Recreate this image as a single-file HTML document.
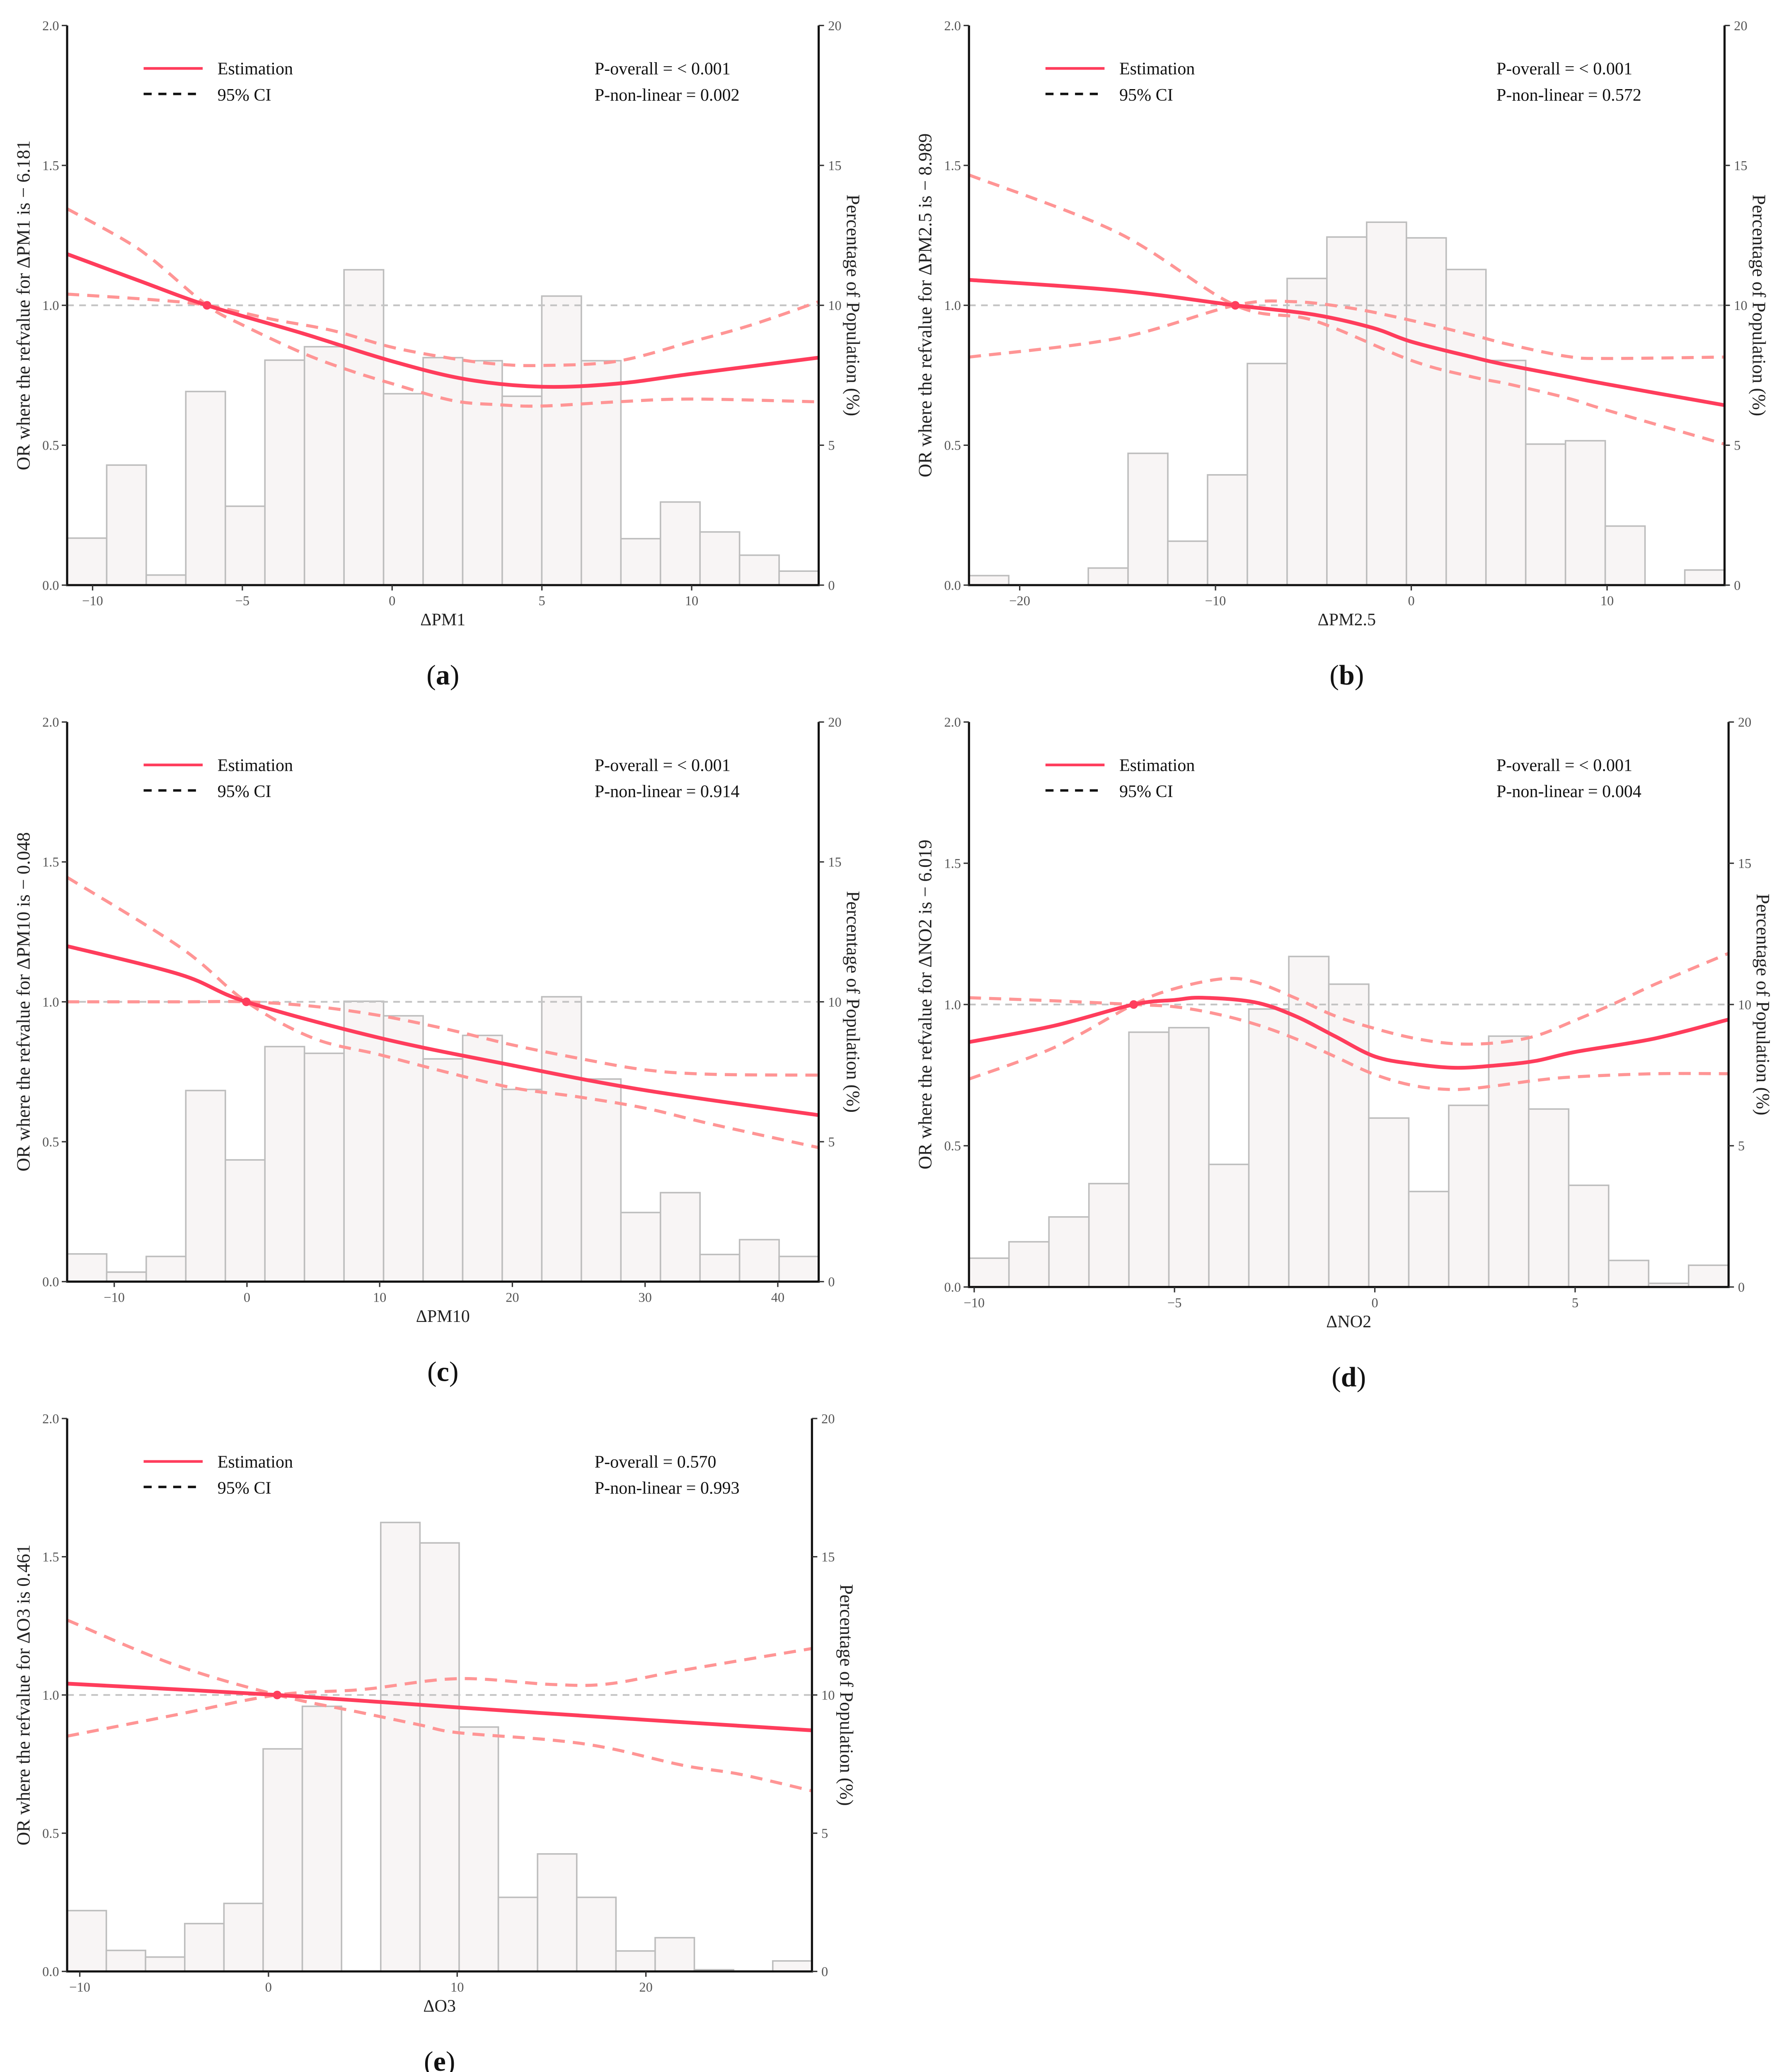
<!DOCTYPE html>
<html><head><meta charset="utf-8">
<style>
html,body{margin:0;padding:0;background:#fff;overflow:hidden;width:4317px;height:5052px;}
svg{display:block;}
text{font-family:"Liberation Serif",serif;}
</style></head>
<body>
<svg id="fig" xmlns="http://www.w3.org/2000/svg" width="4317" height="5052" viewBox="0 0 1333 1560"></svg>
<script>
// ---- Panel data ----
const panelLabels = ["a","b","c","d","e"];
const pollutants = ["ΔPM1","ΔPM2.5","ΔPM10","ΔNO2","ΔO3"];
const refTexts = ["  − 6.181","  − 8.989"," − 0.048","  − 6.019"," 0.461"];
const refValues = [-6.181,-8.989,-0.048,-6.019,0.461];
const pOverall = ["< 0.001","< 0.001","< 0.001","< 0.001","0.570"];
const pNonLinear = ["0.002","0.572","0.914","0.004","0.993"];
const xDomains = [[-10.85,14.24],[-22.59,16.0],[-13.55,43.08],[-10.13,8.83],[-10.67,28.8]];
const xTicksA = [-10,-5,0,5,10];
const xTicksB = [-20,-10,0,10];
const xTicksC = [-10,0,10,20,30,40];
const xTicksD = [-10,-5,0,5];
const xTicksE = [-10,0,10,20];
const yTicks = [0,0.5,1.0,1.5,2.0];
const yTickLabels = ["0.0","0.5","1.0","1.5","2.0"];
const rTicks = [0,5,10,15,20];
// histogram percentages (19 equal bins across x range)
const histA = [1.68,4.29,0.36,6.92,2.82,8.04,8.52,11.27,6.84,8.13,8.02,6.75,10.33,8.02,1.66,2.97,1.90,1.07,0.50];
const histB = [0.34,0,0,0.61,4.71,1.57,3.94,7.92,10.96,12.44,12.97,12.41,11.28,8.03,5.04,5.16,2.11,0,0.54];
const histC = [0.99,0.34,0.9,6.83,4.35,8.4,8.16,10.02,9.5,7.96,8.8,6.87,10.18,7.24,2.47,3.18,0.97,1.5,0.9];
const histD = [1.02,1.6,2.48,3.66,9.02,9.18,4.34,9.84,11.7,10.72,5.98,3.38,6.43,8.88,6.3,3.6,0.94,0.13,0.77];
const histE = [2.2,0.76,0.52,1.73,2.46,8.05,9.59,0,16.24,15.5,8.84,2.68,4.25,2.68,0.74,1.22,0.06,0,0.38];
// curves: x and OR values
const estAx = [-10.85,-8.5,-6.181,-3,0,2.5,5,7.5,10,14.24];
const estAy = [1.183,1.09,1.0,0.9,0.80,0.735,0.709,0.72,0.755,0.813];
const ciA1x = [-10.85,-9,-8,-6.181,-5,-3,-1.5,0,2,3.5,5,7.5,10,14.24];
const ciA1y = [1.345,1.237,1.164,1.0,0.93,0.83,0.77,0.72,0.66,0.645,0.64,0.655,0.665,0.655];
const ciA2x = [-10.85,-8,-6.181,-4,-2,0,2,3.5,5,7.5,10,12,14.24];
const ciA2y = [1.04,1.02,1.0,0.95,0.91,0.85,0.81,0.79,0.785,0.80,0.87,0.93,1.013];
const estBx = [-22.59,-15,-8.989,-5,-2,0,3,5,10,16];
const estBy = [1.091,1.053,1.0,0.967,0.92,0.87,0.817,0.785,0.718,0.643];
const ciB1x = [-22.59,-15,-8.989,-5,0,3,5,8,10,16];
const ciB1y = [1.466,1.26,1.0,0.946,0.803,0.746,0.718,0.668,0.625,0.504];
const ciB2x = [-22.59,-15,-8.989,-6,-3,0,3,5,8,10,16];
const ciB2y = [0.815,0.882,1.0,1.013,0.989,0.946,0.896,0.86,0.817,0.81,0.815];
const estCx = [-13.55,-5,-0.048,10,20,30,43.08];
const estCy = [1.199,1.097,1.0,0.871,0.773,0.684,0.595];
const ciC1x = [-13.55,-5,-0.048,5,10,15,20,25,30,35,43.08];
const ciC1y = [1.445,1.194,1.0,0.87,0.811,0.749,0.693,0.66,0.62,0.563,0.479];
const ciC2x = [-13.55,-5,-0.048,5,10,15,20,25,30,35,43.08];
const ciC2y = [1.0,1.0,1.0,0.984,0.951,0.903,0.846,0.798,0.757,0.741,0.738];
const estDx = [-10.13,-8,-6.019,-5,-4.3,-3,-2,-1,0,1,2,3,4,5,7,8.83];
const estDy = [0.867,0.925,1.0,1.016,1.024,1.008,0.96,0.888,0.816,0.789,0.776,0.784,0.8,0.832,0.88,0.947];
const ciD1x = [-10.13,-8,-6.019,-5,-3.8,-3,-2,-1,0,1,2,3,4,5,6,7,8.83];
const ciD1y = [0.736,0.848,1.0,1.056,1.091,1.08,1.024,0.96,0.915,0.88,0.861,0.864,0.888,0.944,1.005,1.072,1.181];
const ciD2x = [-10.13,-8,-6.019,-5,-4,-3,-2,-1,0,1,2,3,4,5,7,8.83];
const ciD2y = [1.024,1.013,1.0,0.992,0.968,0.931,0.88,0.816,0.752,0.712,0.699,0.712,0.731,0.744,0.755,0.755];
const estEx = [-10.67,0.461,10,20,28.8];
const estEy = [1.041,1.0,0.955,0.91,0.872];
const ciE1x = [-10.67,-5,0.461,5,10,15,18,22,28.8];
const ciE1y = [0.851,0.927,1.0,1.02,1.059,1.038,1.04,1.09,1.168];
const ciE2x = [-10.67,-5,0.461,5,8,10,15,18,22,25,28.8];
const ciE2y = [1.271,1.11,1.0,0.935,0.892,0.864,0.837,0.808,0.745,0.713,0.653];

const panels = [
 {box:[50,610,19,436], xt:xTicksA, hist:histA, est:[estAx,estAy], ci1:[ciA1x,ciA1y], ci2:[ciA2x,ciA2y]},
 {box:[722,1285,19,436], xt:xTicksB, hist:histB, est:[estBx,estBy], ci1:[ciB1x,ciB1y], ci2:[ciB2x,ciB2y]},
 {box:[50,610,538,955], xt:xTicksC, hist:histC, est:[estCx,estCy], ci1:[ciC1x,ciC1y], ci2:[ciC2x,ciC2y]},
 {box:[722,1288,538,959], xt:xTicksD, hist:histD, est:[estDx,estDy], ci1:[ciD1x,ciD1y], ci2:[ciD2x,ciD2y]},
 {box:[50,605,1057,1469], xt:xTicksE, hist:histE, est:[estEx,estEy], ci1:[ciE1x,ciE1y], ci2:[ciE2x,ciE2y]}
];

const NS="http://www.w3.org/2000/svg";
const svg=document.getElementById('fig');
function mk(tag,attrs,parent,txt){const e=document.createElementNS(NS,tag);for(const k in attrs)e.setAttribute(k,attrs[k]);if(txt!==undefined)e.textContent=txt;(parent||svg).appendChild(e);return e;}
function smooth(pts){let d="M"+pts[0][0].toFixed(2)+","+pts[0][1].toFixed(2);
 for(let i=0;i<pts.length-1;i++){const p0=pts[Math.max(0,i-1)],p1=pts[i],p2=pts[i+1],p3=pts[Math.min(pts.length-1,i+2)];
  const c1=[p1[0]+(p2[0]-p0[0])/6,p1[1]+(p2[1]-p0[1])/6],c2=[p2[0]-(p3[0]-p1[0])/6,p2[1]-(p3[1]-p1[1])/6];
  d+=" C"+c1[0].toFixed(2)+","+c1[1].toFixed(2)+" "+c2[0].toFixed(2)+","+c2[1].toFixed(2)+" "+p2[0].toFixed(2)+","+p2[1].toFixed(2);}
 return d;}

panels.forEach((p,i)=>{
 const [L,R,T,B]=p.box;
 const [x0,x1]=xDomains[i];
 const xs=v=>L+(v-x0)/(x1-x0)*(R-L);
 const ys=v=>B-(v/2)*(B-T);
 const ps=v=>B-(v/20)*(B-T);
 const g=mk('g',{});
 
 
 const n=p.hist.length, bw=(R-L)/n;
 p.hist.forEach((v,k)=>{ if(v<=0) return;
  const r=mk('rect',{x:L+k*bw,y:ps(v),width:bw,height:B-ps(v),fill:'#f8f5f5',stroke:'#bdbdbd','stroke-width':1.1},g);
  
  
 });
 const rl=mk('line',{x1:L,x2:R,y1:ys(1),y2:ys(1),stroke:'#c4c4c4','stroke-width':1.3,'stroke-dasharray':'5,4'},g);
 
 
 [p.ci1,p.ci2].forEach(c=>{
  const pts=c[0].map((x,k)=>[xs(x),ys(c[1][k])]);
  const e=mk('path',{d:smooth(pts),fill:'none',stroke:'#ff9595','stroke-width':2.3,'stroke-dasharray':'9,6'},g);
  
  
 });
 const ep=p.est[0].map((x,k)=>[xs(x),ys(p.est[1][k])]);
 const es=mk('path',{d:smooth(ep),fill:'none',stroke:'#ff3d5c','stroke-width':2.8},g);
 
 
 const dot=mk('circle',{cx:xs(refValues[i]),cy:ys(1),r:3.2,fill:'#ff3d5c'},g);
 
 
 const ax=mk('path',{d:`M${L},${T} V${B} H${R} V${T}`,fill:'none',stroke:'#111','stroke-width':1.6},g);
 
 
 yTicks.forEach((v,k)=>{
  mk('line',{x1:L-4,x2:L,y1:ys(v),y2:ys(v),stroke:'#333','stroke-width':1},g);
  const t=mk('text',{x:L-6,y:ys(v)+3.5,'text-anchor':'end','font-size':10,fill:'#555'},g,yTickLabels[k]);
  
  
 });
 rTicks.forEach(v=>{
  mk('line',{x1:R,x2:R+4,y1:ps(v),y2:ps(v),stroke:'#333','stroke-width':1},g);
  const t=mk('text',{x:R+7,y:ps(v)+3.5,'font-size':10,fill:'#555'},g,String(v));
  
  
 });
 p.xt.forEach(v=>{
  mk('line',{x1:xs(v),x2:xs(v),y1:B,y2:B+4,stroke:'#333','stroke-width':1},g);
  const t=mk('text',{x:xs(v),y:B+15,'text-anchor':'middle','font-size':10,fill:'#555'},g,(v<0?'−':'')+Math.abs(v));
  
  
 });
 const xt=mk('text',{x:(L+R)/2,y:B+30,'text-anchor':'middle','font-size':13,fill:'#222'},g,pollutants[i]);
 
 
 const yl=mk('text',{x:0,y:0,transform:`translate(${L-28},${(T+B)/2}) rotate(-90)`,'text-anchor':'middle','font-size':14,fill:'#222','xml:space':'preserve'},g,'OR where the refvalue for '+pollutants[i]+' is'+refTexts[i]);
 
 
 const yr=mk('text',{x:0,y:0,transform:`translate(${R+21},${(T+B)/2}) rotate(90)`,'text-anchor':'middle','font-size':14,fill:'#222'},g,'Percentage of Population (%)');
 
 
 mk('line',{x1:L+57,x2:L+101,y1:T+32,y2:T+32,stroke:'#ff3d5c','stroke-width':2},g);
 const l1=mk('text',{x:L+112,y:T+36.5,'font-size':13,fill:'#111'},g,'Estimation');
 
 
 mk('line',{x1:L+57,x2:L+101,y1:T+51,y2:T+51,stroke:'#111','stroke-width':1.8,'stroke-dasharray':'6,5'},g);
 const l2=mk('text',{x:L+112,y:T+56,'font-size':13,fill:'#111'},g,'95% CI');
 
 
 const pv1=mk('text',{x:L+393,y:T+36.5,'font-size':13,fill:'#111'},g,'P-overall = '+pOverall[i]);
 
 
 const pv2=mk('text',{x:L+393,y:T+56,'font-size':13,fill:'#111'},g,'P-non-linear = '+pNonLinear[i]);
 
 
 const pl=mk('text',{x:(L+R)/2,y:B+74,'text-anchor':'middle','font-size':21,fill:'#111'},g);
 
 
 mk('tspan',{},pl,'(');
 mk('tspan',{'font-weight':'bold'},pl,panelLabels[i]);
 mk('tspan',{},pl,')');
});
</script>
</body></html>
